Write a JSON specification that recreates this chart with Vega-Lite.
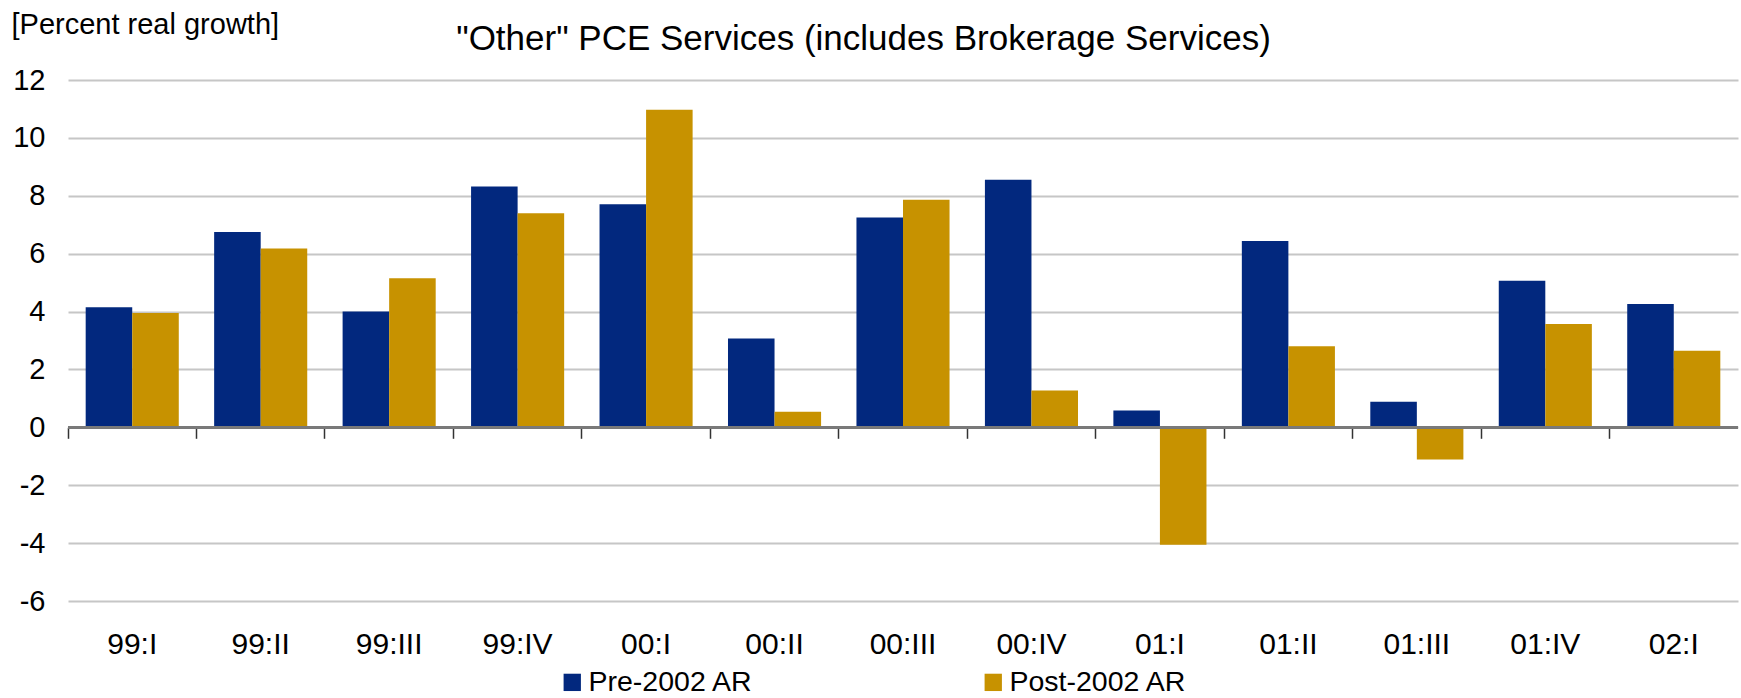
{
  "$schema": "https://vega.github.io/schema/vega-lite/v6.json",
  "width": 1670,
  "height": 521,
  "autosize": "none",
  "padding": {"left": 68, "top": 80, "right": 3, "bottom": 97},
  "background": "white",
  "config": {
    "font": "Liberation Sans",
    "view": {"stroke": null}
  },
  "data": {
    "values": [
      {"q": "99:I", "series": "Pre-2002 AR", "v": 4.15},
      {"q": "99:I", "series": "Post-2002 AR", "v": 3.95},
      {"q": "99:II", "series": "Pre-2002 AR", "v": 6.75},
      {"q": "99:II", "series": "Post-2002 AR", "v": 6.18},
      {"q": "99:III", "series": "Pre-2002 AR", "v": 4.0},
      {"q": "99:III", "series": "Post-2002 AR", "v": 5.15},
      {"q": "99:IV", "series": "Pre-2002 AR", "v": 8.32},
      {"q": "99:IV", "series": "Post-2002 AR", "v": 7.4},
      {"q": "00:I", "series": "Pre-2002 AR", "v": 7.71},
      {"q": "00:I", "series": "Post-2002 AR", "v": 10.97},
      {"q": "00:II", "series": "Pre-2002 AR", "v": 3.07},
      {"q": "00:II", "series": "Post-2002 AR", "v": 0.54},
      {"q": "00:III", "series": "Pre-2002 AR", "v": 7.25},
      {"q": "00:III", "series": "Post-2002 AR", "v": 7.86},
      {"q": "00:IV", "series": "Pre-2002 AR", "v": 8.55},
      {"q": "00:IV", "series": "Post-2002 AR", "v": 1.27},
      {"q": "01:I", "series": "Pre-2002 AR", "v": 0.58},
      {"q": "01:I", "series": "Post-2002 AR", "v": -4.06},
      {"q": "01:II", "series": "Pre-2002 AR", "v": 6.44},
      {"q": "01:II", "series": "Post-2002 AR", "v": 2.8},
      {"q": "01:III", "series": "Pre-2002 AR", "v": 0.88},
      {"q": "01:III", "series": "Post-2002 AR", "v": -1.11},
      {"q": "01:IV", "series": "Pre-2002 AR", "v": 5.06},
      {"q": "01:IV", "series": "Post-2002 AR", "v": 3.57},
      {"q": "02:I", "series": "Pre-2002 AR", "v": 4.26},
      {"q": "02:I", "series": "Post-2002 AR", "v": 2.65}
    ]
  },
  "layer": [
    {
      "mark": {"type": "bar"},
      "encoding": {
        "x": {
          "field": "q", "type": "nominal", "sort": null,
          "scale": {"paddingInner": 0, "paddingOuter": 0},
          "axis": {
            "title": null, "domain": false, "ticks": false, "grid": false,
            "labelAngle": 0, "labelFontSize": 30, "labelColor": "#000000",
            "labelPadding": 28, "labelFont": "Liberation Sans"
          }
        },
        "xOffset": {
          "field": "series", "type": "nominal",
          "sort": ["Pre-2002 AR", "Post-2002 AR"],
          "scale": {"paddingInner": 0, "paddingOuter": 0.38}
        },
        "y": {
          "field": "v", "type": "quantitative",
          "scale": {"domain": [-6, 12], "nice": false, "zero": true},
          "axis": {
            "values": [-6, -4, -2, 0, 2, 4, 6, 8, 10, 12],
            "labelExpr": "replace(datum.label, '\u2212', '-')",
            "domain": false, "ticks": false,
            "grid": true, "gridColor": "#c6c6c6", "gridWidth": 2,
            "labelFontSize": 29, "labelColor": "#000000", "labelPadding": 23,
            "title": "[Percent real growth]",
            "titleAngle": 0, "titleX": -57, "titleY": -56,
            "titleAlign": "left", "titleBaseline": "middle",
            "titleFontSize": 29, "titleFontWeight": "normal", "titleColor": "#000000"
          }
        },
        "color": {
          "field": "series", "type": "nominal",
          "sort": ["Pre-2002 AR", "Post-2002 AR"],
          "scale": {"domain": ["Pre-2002 AR", "Post-2002 AR"], "range": ["#02287e", "#c79200"]},
          "legend": {
            "title": null, "orient": "none", "direction": "horizontal",
            "legendX": 490, "legendY": 588,
            "symbolType": "square", "symbolSize": 300, "symbolStrokeWidth": 0,
            "labelFontSize": 28.5, "labelColor": "#000000", "labelOffset": 2,
            "columnPadding": 225, "labelLimit": 400
          }
        }
      }
    },
    {
      "mark": {"type": "rule", "color": "#7a7a7a", "strokeWidth": 2},
      "encoding": {
        "y": {"datum": 0, "type": "quantitative"}
      }
    },
    {
      "mark": {"type": "bar", "opacity": 0},
      "encoding": {
        "x": {
          "field": "q", "type": "nominal", "sort": null,
          "axis": {
            "orient": "top",
            "labels": false, "domain": false, "grid": false,
            "ticks": true, "bandPosition": 0, "tickSize": -11, "tickColor": "#333333",
            "tickWidth": 1.5, "offset": -347.3,
            "title": "\"Other\" PCE Services (includes Brokerage Services)",
            "titleX": 795, "titleY": -378.3,
            "titleAlign": "center", "titleBaseline": "alphabetic",
            "titleFontSize": 35, "titleFontWeight": "normal", "titleColor": "#000000"
          }
        },
        "y": {"field": "v", "type": "quantitative"}
      }
    }
  ],
  "resolve": {"axis": {"x": "independent"}}
}
